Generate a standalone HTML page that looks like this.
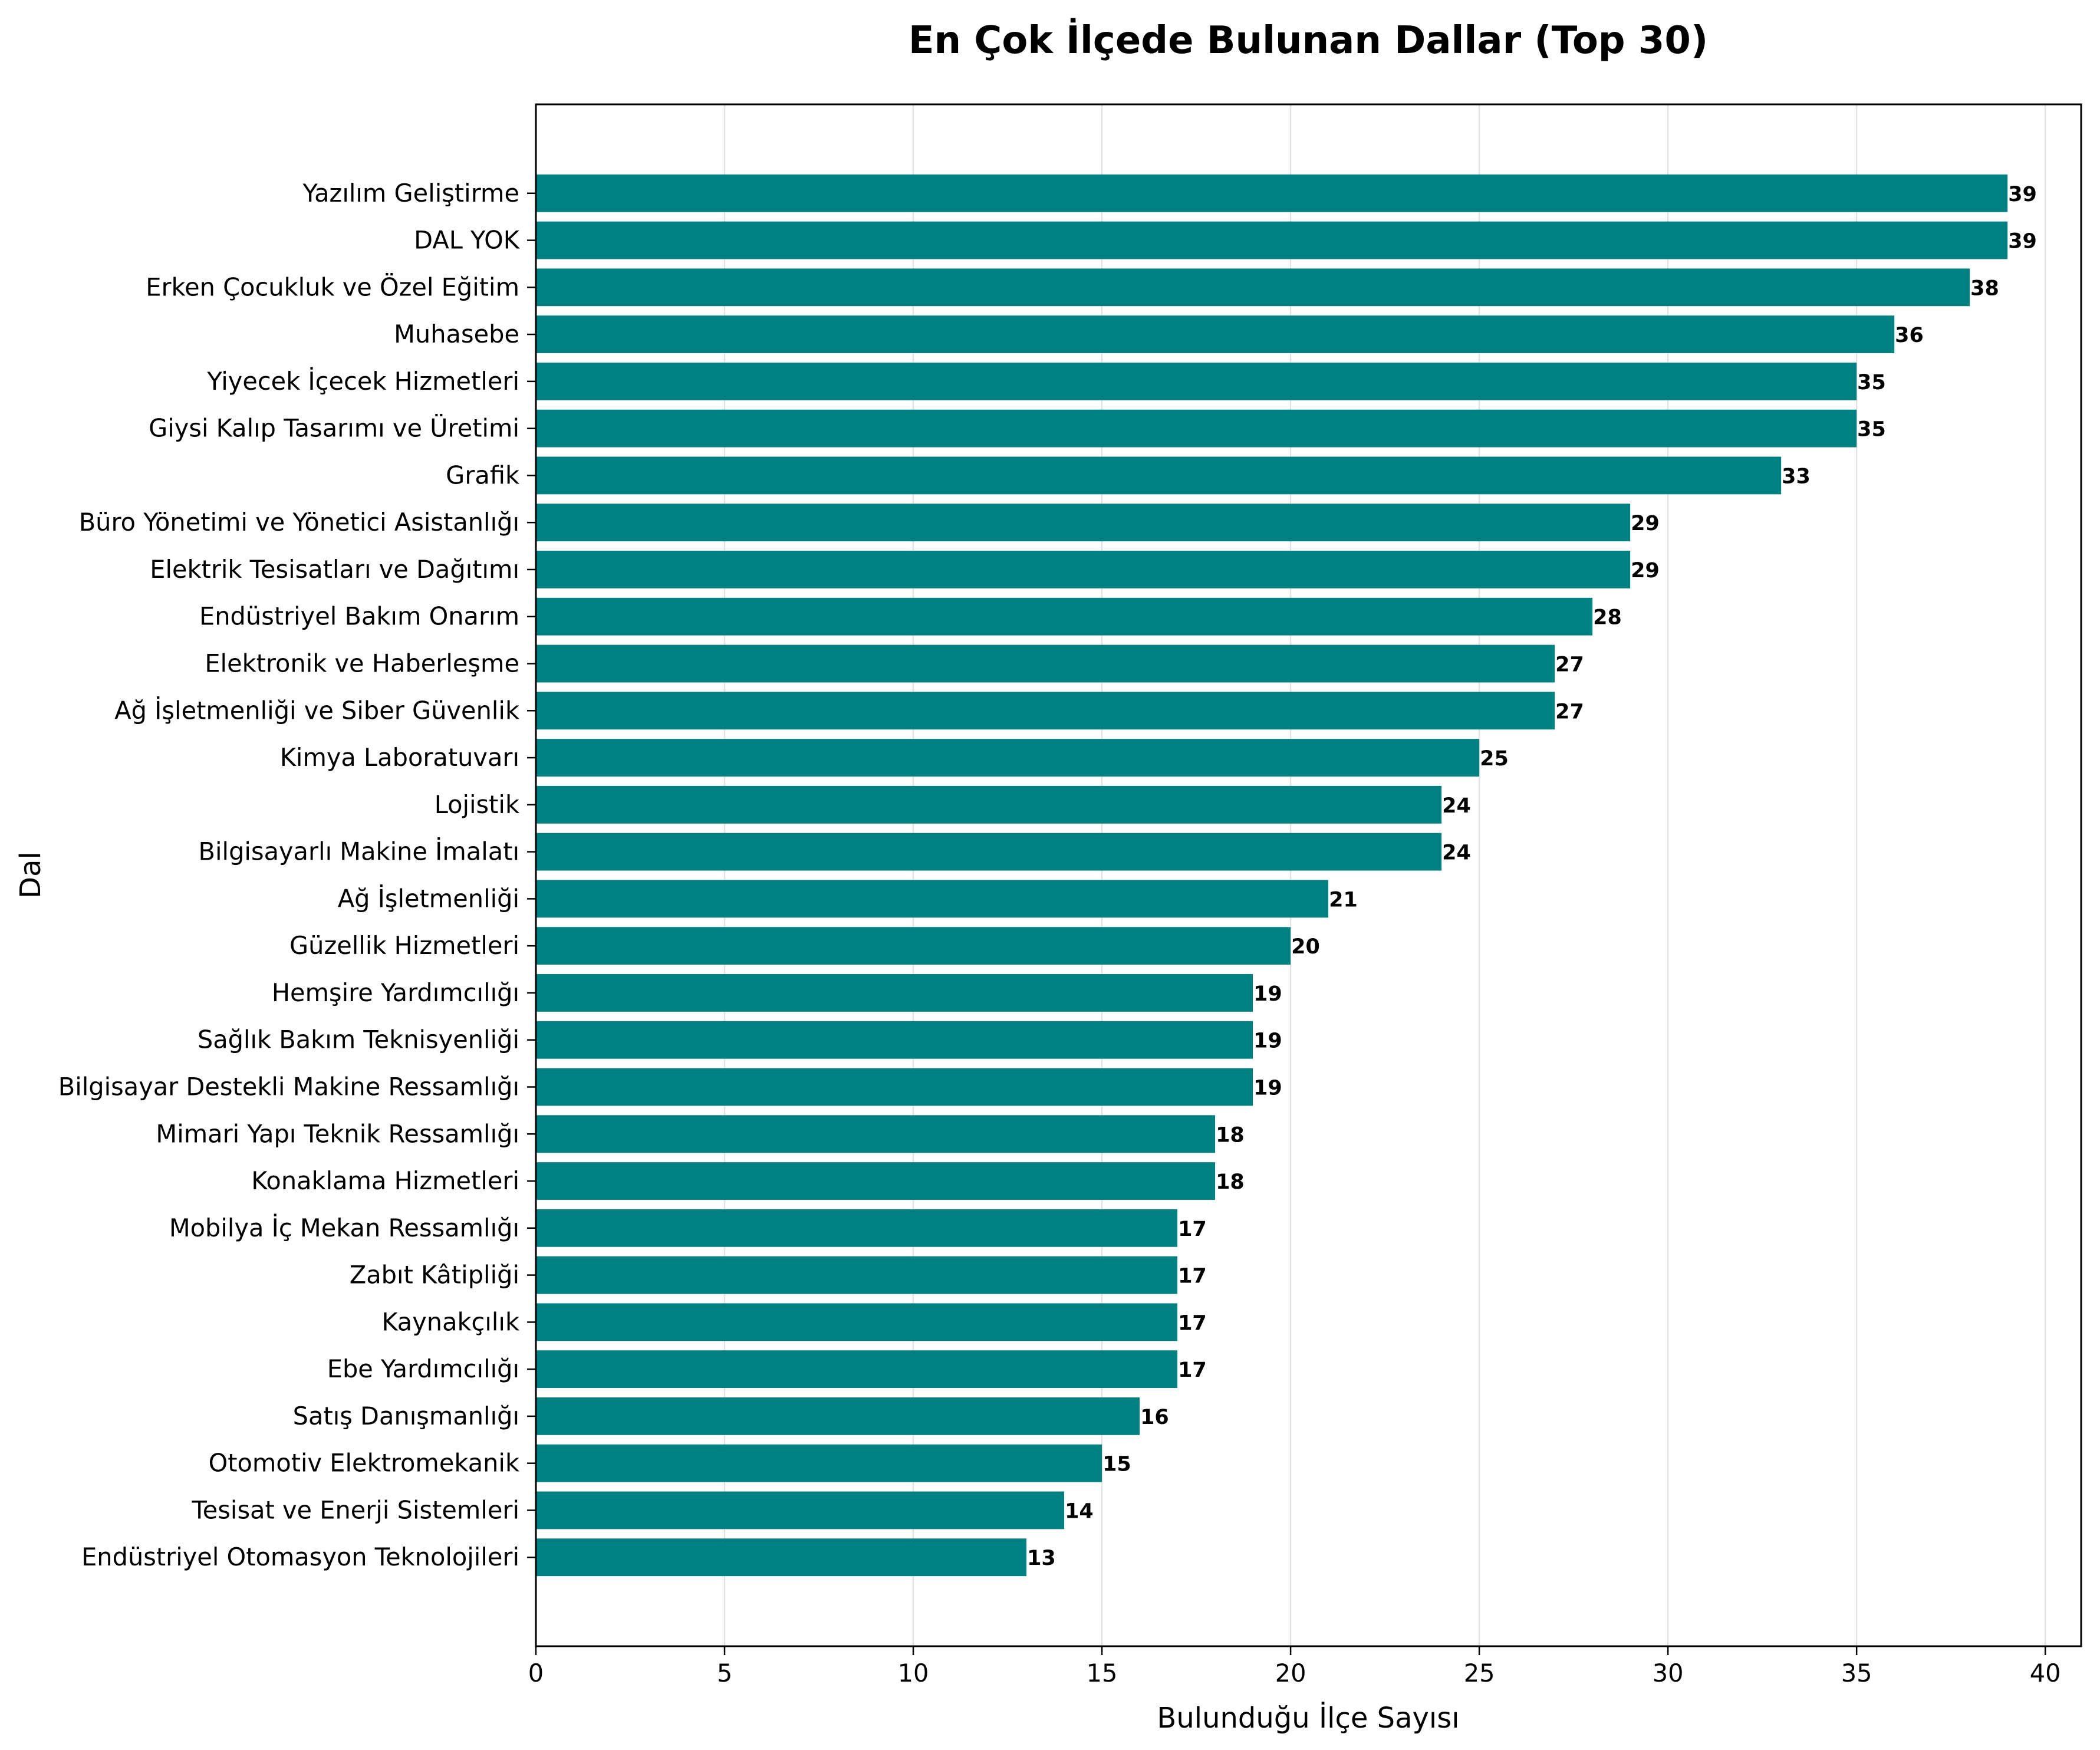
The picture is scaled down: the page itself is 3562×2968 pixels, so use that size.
<!DOCTYPE html>
<html><head><meta charset="utf-8">
<style>
html,body{margin:0;padding:0;background:#fff;}
svg{display:block;font-family:"Liberation Sans","DejaVu Sans",sans-serif;}
</style></head>
<body>
<svg id="chart" width="3562" height="2968" viewBox="0 0 3562 2968" xmlns="http://www.w3.org/2000/svg">
<rect width="3562" height="2968" fill="#fff"/>
<text x="2219" y="90" text-anchor="middle" font-size="64" font-weight="bold" font-family="DejaVu Sans, Liberation Sans, sans-serif">En Çok İlçede Bulunan Dallar (Top 30)</text>
<g id="grid"></g>
<g id="bars"></g>
<g id="xticks"></g>
<g id="yticks"></g>
<rect x="909" y="177" width="2621" height="2615" fill="none" stroke="#000" stroke-width="3"/>
<text x="2219" y="2930" text-anchor="middle" font-size="48" font-family="DejaVu Sans, Liberation Sans, sans-serif">Bulunduğu İlçe Sayısı</text>
<text transform="translate(68,1484) rotate(-90)" text-anchor="middle" font-size="48" font-family="DejaVu Sans, Liberation Sans, sans-serif">Dal</text>
</svg>
<script>
const categories = ["Yazılım Geliştirme","DAL YOK","Erken Çocukluk ve Özel Eğitim","Muhasebe","Yiyecek İçecek Hizmetleri","Giysi Kalıp Tasarımı ve Üretimi","Grafik","Büro Yönetimi ve Yönetici Asistanlığı","Elektrik Tesisatları ve Dağıtımı","Endüstriyel Bakım Onarım","Elektronik ve Haberleşme","Ağ İşletmenliği ve Siber Güvenlik","Kimya Laboratuvarı","Lojistik","Bilgisayarlı Makine İmalatı","Ağ İşletmenliği","Güzellik Hizmetleri","Hemşire Yardımcılığı","Sağlık Bakım Teknisyenliği","Bilgisayar Destekli Makine Ressamlığı","Mimari Yapı Teknik Ressamlığı","Konaklama Hizmetleri","Mobilya İç Mekan Ressamlığı","Zabıt Kâtipliği","Kaynakçılık","Ebe Yardımcılığı","Satış Danışmanlığı","Otomotiv Elektromekanik","Tesisat ve Enerji Sistemleri","Endüstriyel Otomasyon Teknolojileri"];
const values = [39,39,38,36,35,35,33,29,29,28,27,27,25,24,24,21,20,19,19,19,18,18,17,17,17,17,16,15,14,13];
const xTicks = [0,5,10,15,20,25,30,35,40];

const NS="http://www.w3.org/2000/svg";
const L=909,R=3530,T=177,B=2792;
const xmax=Math.max(...values)*1.05;
const x=v=>L+v/xmax*(R-L);
const n=categories.length;
const ylo=-0.4-0.05*(n-1+0.8), yhi=n-1+0.4+0.05*(n-1+0.8);
const y=i=>T+(i-ylo)/(yhi-ylo)*(B-T);
const unit=(B-T)/(yhi-ylo);
function mk(tag,attrs,parent){const e=document.createElementNS(NS,tag);for(const k in attrs)e.setAttribute(k,attrs[k]);parent.appendChild(e);return e;}
const grid=document.getElementById('grid'),bars=document.getElementById('bars'),xt=document.getElementById('xticks'),yt=document.getElementById('yticks');
xTicks.forEach(t=>{
  const g=mk('line',{x1:x(t),x2:x(t),y1:T,y2:B,stroke:'#b0b0b0','stroke-opacity':0.35,'stroke-width':2.5},grid);
  
  
  const tk=mk('line',{x1:x(t),x2:x(t),y1:B,y2:B+15,stroke:'#000','stroke-width':2.5},xt);
  
  
  const lb=mk('text',{x:x(t),y:B+60,'text-anchor':'middle','font-size':41.5,'font-family':'DejaVu Sans, Liberation Sans, sans-serif'},xt);
  lb.textContent=t;
  
  
});
categories.forEach((c,i)=>{
  const cy=y(i),h=0.8*unit;
  const r=mk('rect',{x:L,y:cy-h/2,width:x(values[i])-L,height:h,fill:'#008080'},bars);
  
  
  const v=mk('text',{x:x(values[i])+1,y:cy+13,'font-size':35,'font-weight':'bold','font-family':'DejaVu Sans, Liberation Sans, sans-serif'},bars);
  v.textContent=values[i];
  
  
  const tk=mk('line',{x1:L-15,x2:L,y1:cy,y2:cy,stroke:'#000','stroke-width':2.5},yt);
  
  
  const lb=mk('text',{x:L-28,y:cy+14,'text-anchor':'end','font-size':41.5,'font-family':'DejaVu Sans, Liberation Sans, sans-serif'},yt);
  lb.textContent=c;
  
  
});
</script>
</body></html>
